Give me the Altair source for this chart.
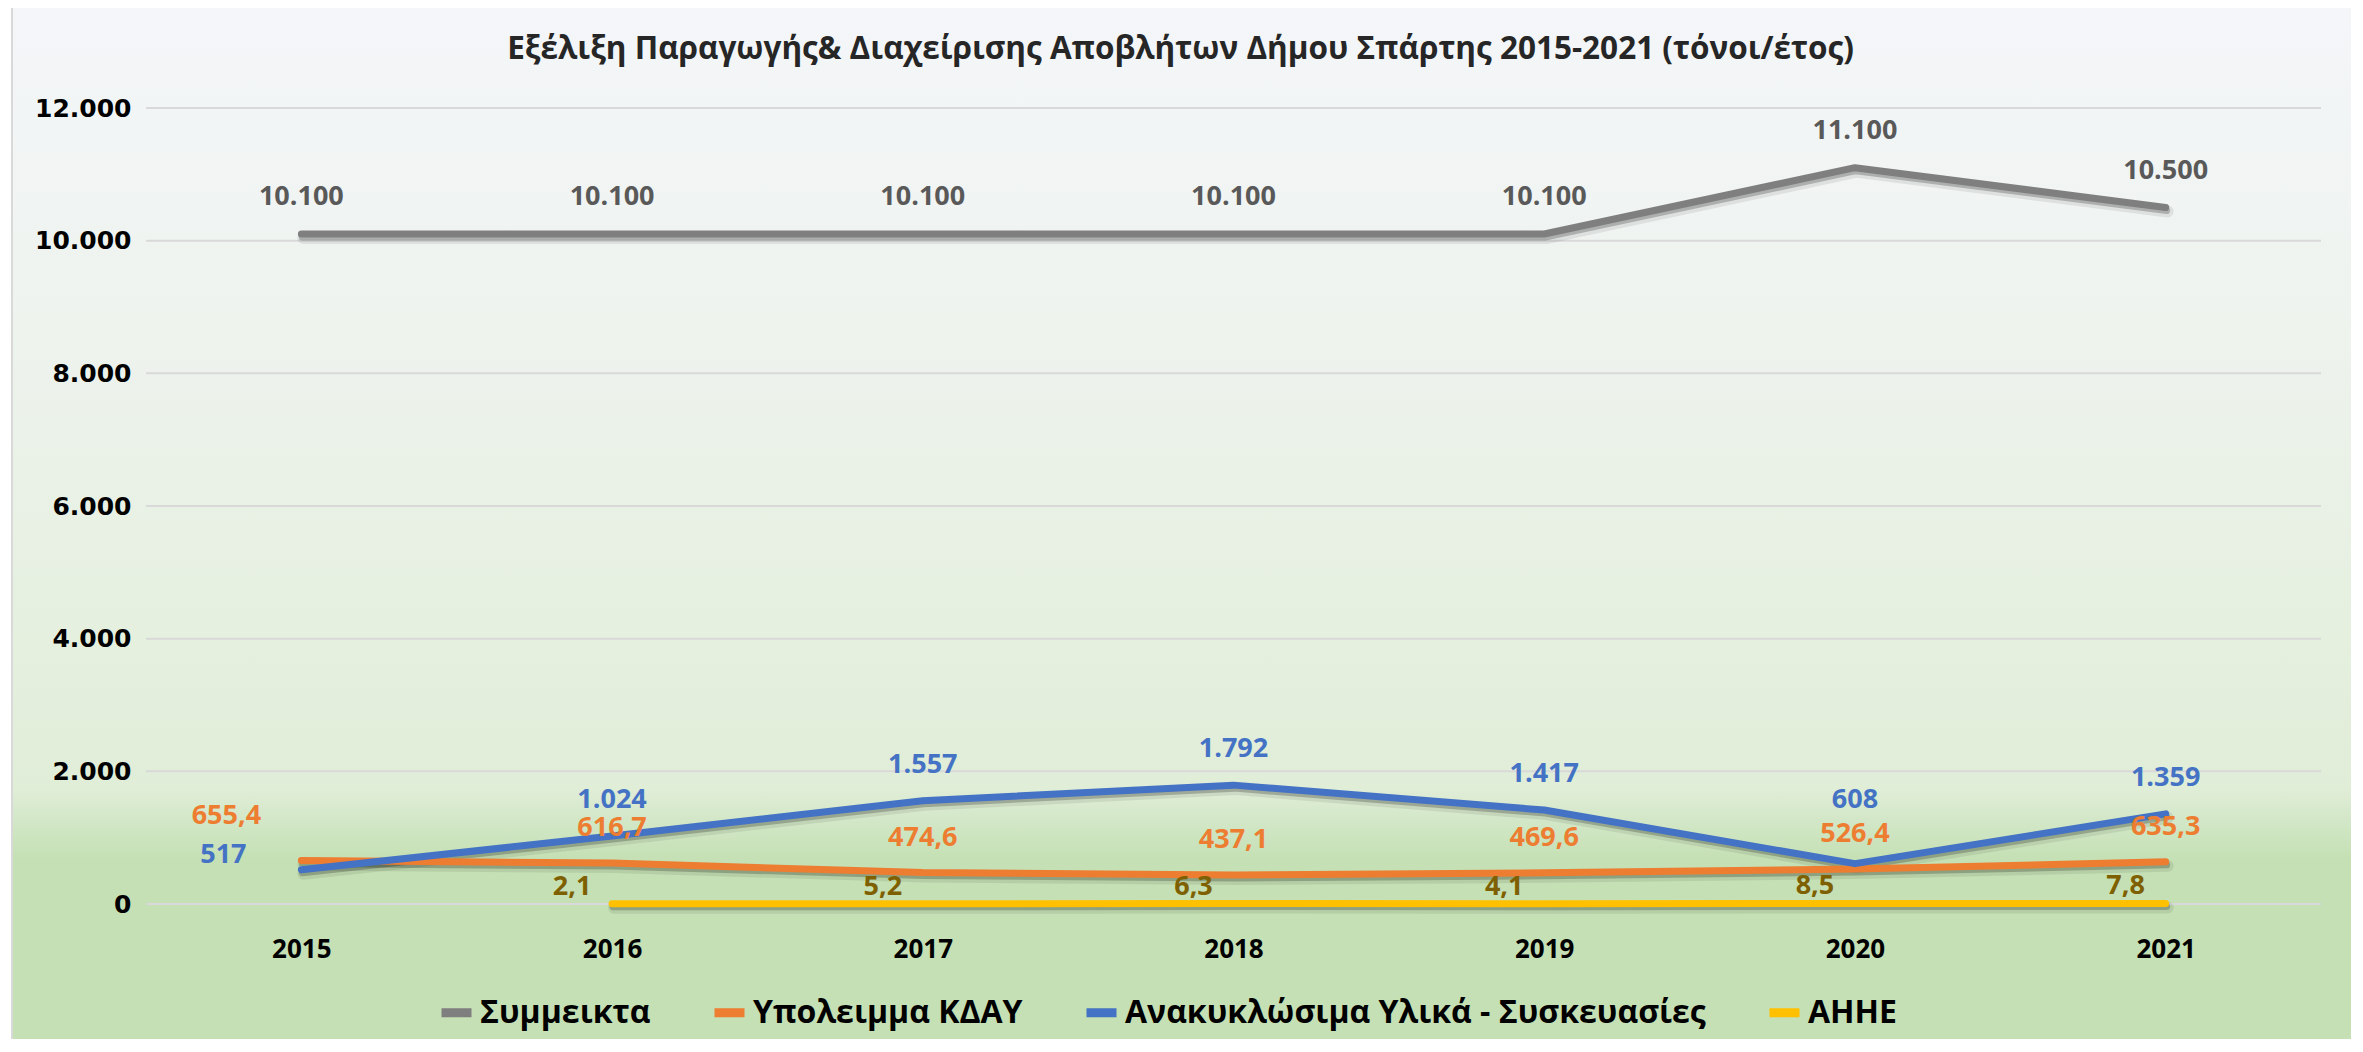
import altair as alt
import pandas as pd

years = ["2015", "2016", "2017", "2018", "2019", "2020", "2021"]
series_names = ["Συμμεικτα", "Υπολειμμα ΚΔΑΥ", "Ανακυκλώσιμα Υλικά - Συσκευασίες", "ΑΗΗΕ"]
symmeikta = [10100, 10100, 10100, 10100, 10100, 11100, 10500]
ypoleimma = [655.4, 616.7, 474.6, 437.1, 469.6, 526.4, 635.3]
anakyklosima = [517, 1024, 1557, 1792, 1417, 608, 1359]
ahhe = [None, 2.1, 5.2, 6.3, 4.1, 8.5, 7.8]
y_ticks = [0, 2000, 4000, 6000, 8000, 10000, 12000]

line_colors = ["#7f7f7f", "#ed7d31", "#4472c4", "#ffc000"]
label_colors = ["#595959", "#ed7d31", "#4472c4", "#7f6000"]
title_text = "Εξέλιξη Παραγωγής& Διαχείρισης Αποβλήτων Δήμου Σπάρτης 2015-2021 (τόνοι/έτος)"


def fmt_int(v):
    return f"{v:,.0f}".replace(",", ".")


def fmt_dec(v):
    return f"{v:.1f}".replace(".", ",")


rows = []
for name, vals, fmt in [
    (series_names[0], symmeikta, fmt_int),
    (series_names[1], ypoleimma, fmt_dec),
    (series_names[2], anakyklosima, fmt_int),
    (series_names[3], ahhe, fmt_dec),
]:
    for yr, v in zip(years, vals):
        if v is None:
            continue
        rows.append({"series": name, "year": yr, "value": v, "label": fmt(v)})
df = pd.DataFrame(rows)

W, H = 2175, 796
FONT = "Open Sans"

x_enc = alt.X(
    "year:O",
    sort=years,
    scale=alt.Scale(type="point", padding=0.5),
    axis=alt.Axis(
        title=None, labelAngle=0, domain=False, ticks=False, grid=False,
        labelFont=FONT, labelFontSize=26, labelFontWeight="bold",
        labelColor="#000000", labelPadding=32, zindex=1,
    ),
)
y_enc = alt.Y(
    "value:Q",
    scale=alt.Scale(domain=[0, 12000], nice=False),
    axis=alt.Axis(
        title=None, values=y_ticks, domain=False, ticks=False, grid=False,
        labelExpr="replace(format(datum.value, ','), ',', '.')",
        labelFont="DejaVu Sans", labelFontSize=25, labelFontWeight="bold",
        labelColor="#000000", labelPadding=15, zindex=1,
    ),
)

bg_gradient = alt.LinearGradient(
    gradient="linear", x1=0, x2=0, y1=0, y2=1,
    stops=[
        alt.GradientStop(color="#f4f6f9", offset=0),
        alt.GradientStop(color="#eef3ee", offset=0.3),
        alt.GradientStop(color="#e5f0df", offset=0.6),
        alt.GradientStop(color="#e0edd7", offset=0.745),
        alt.GradientStop(color="#d0e6c4", offset=0.78),
        alt.GradientStop(color="#c5e0b4", offset=0.812),
        alt.GradientStop(color="#c5e0b4", offset=1),
    ],
)

background = alt.Chart(pd.DataFrame({"a": [0]})).mark_rect(
    fill=bg_gradient, stroke="#d9d9d9", strokeWidth=2
).encode(
    x=alt.value(-134), x2=alt.value(2206), y=alt.value(-102), y2=alt.value(950)
)

grid = alt.Chart(pd.DataFrame({"value": y_ticks})).mark_rule(
    color="#d9d9d9", strokeWidth=2
).encode(
    y=y_enc, x=alt.value(0), x2=alt.value(W)
)

shadow_wide = alt.Chart(df).mark_line(
    color="#000000", opacity=0.08, strokeWidth=12, strokeCap="round", strokeJoin="round"
).encode(
    x=x_enc, y=y_enc, detail="series:N",
    xOffset=alt.value(2), yOffset=alt.value(4),
)

shadow = alt.Chart(df).mark_line(
    color="#000000", opacity=0.22, strokeWidth=7, strokeCap="round", strokeJoin="round"
).encode(
    x=x_enc, y=y_enc, detail="series:N",
    xOffset=alt.value(1), yOffset=alt.value(3),
)

lines = alt.Chart(df).mark_line(
    strokeWidth=7, strokeCap="round", strokeJoin="round"
).encode(
    x=x_enc, y=y_enc,
    color=alt.Color(
        "series:N",
        sort=series_names,
        scale=alt.Scale(domain=series_names, range=line_colors),
        legend=alt.Legend(
            title=None, orient="none", direction="horizontal",
            legendX=291, legendY=885,
            symbolType="stroke", symbolStrokeWidth=9, symbolSize=900,
            labelFont=FONT, labelFontSize=32, labelFontWeight="bold",
            labelColor="#000000", labelLimit=1200, labelOffset=4,
            columnPadding=45,
        ),
    ),
)


def text_layer(expr, dx, dy):
    return alt.Chart(df).transform_filter(expr).mark_text(
        font=FONT, fontSize=27, fontWeight="bold", baseline="middle",
        align="center", dx=dx, dy=dy,
    ).encode(
        x=x_enc, y=y_enc, text="label:N",
        fill=alt.Fill("series:N", scale=alt.Scale(domain=series_names, range=label_colors), legend=None),
    )


s0, s1, s2, s3 = series_names
texts = [
    text_layer(f"datum.series == '{s0}'", 0, -37),
    text_layer(f"datum.series == '{s1}' && datum.year != '2015'", 0, -35),
    text_layer(f"datum.series == '{s1}' && datum.year == '2015'", -75, -45),
    text_layer(f"datum.series == '{s2}' && datum.year != '2015' && datum.year != '2020'", 0, -36),
    text_layer(f"datum.series == '{s2}' && datum.year == '2015'", -78, -15),
    text_layer(f"datum.series == '{s2}' && datum.year == '2020'", 0, -64),
    text_layer(f"datum.series == '{s3}'", -40, -17),
]

chart = alt.layer(background, grid, shadow_wide, shadow, lines, *texts).properties(
    width=W, height=H,
    title=alt.TitleParams(
        text=title_text, font=FONT, fontSize=31.5, fontWeight="bold",
        color="#262626", anchor="middle", offset=-60, dx=-53,
    ),
    autosize=alt.AutoSizeParams(type="none"),
    padding={"left": 138, "top": 100, "right": 30, "bottom": 135},
    background="#ffffff",
).configure_view(stroke=None)

chart.save("out.html", embed_options={"renderer": "svg", "actions": False})
